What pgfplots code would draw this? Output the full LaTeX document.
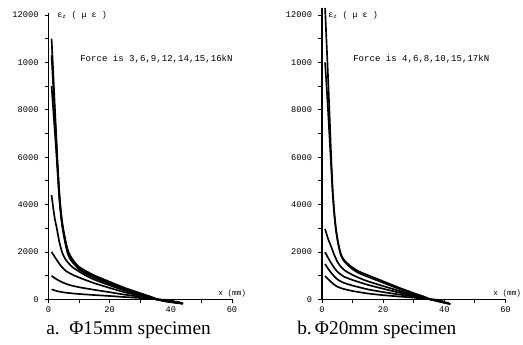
\documentclass[border=0pt]{standalone}
\usepackage{pgfplots}
\pgfplotsset{compat=1.18}
\usepackage{fontspec}
\setmainfont{Liberation Serif}
\newfontfamily\mono{Liberation Mono}
\begin{document}
\begin{tikzpicture}[x=0.75pt,y=0.75pt]
\useasboundingbox (0,0) rectangle (523,344);
\pgfplotsset{
  myax/.style={
    scale only axis,
    anchor=south west,
    width=137.6pt,
    xmin=0, xmax=60, ymin=0,
    axis lines=left,
    axis line style={-, line width=0.9pt},
    clip=false,
    scaled y ticks=false, scaled x ticks=false,
    tick align=outside,
    major tick length=3pt,
    every tick/.style={line width=0.6pt, black},
    xtick={0,10,...,60},
    xticklabels={0,,20,,40,,60},
    ytick={0,1000,...,12000},
    yticklabels={0,,2000,,4000,,6000,,8000,,1000,,12000},
    ticklabel style={font=\mono\fontsize{6.5}{7}\selectfont},
    xticklabel style={yshift=1pt},
    yticklabel style={xshift=-1pt},
    no markers,
    every axis plot post/.style={black, solid, line width=1.25pt, line join=round, mark=none, smooth, tension=0.35},
  }
}
% ---------- left panel ----------
\begin{axis}[myax, at={(36.375pt,33.525pt)}, ymax=12080, height=214.6pt]
\addplot coordinates {(1,11000) (1.5,9700) (2,8300) (2.5,7000) (3,5700) (3.5,4600) (4,3800) (4.5,3250) (5,2850) (5.7,2400) (6.4,2050) (7.2,1820) (8,1660) (9,1500) (10,1370) (12,1210) (15,1010) (20,740) (25,480) (30,260) (33,130) (35.6,0) (38,-80) (41,-140) (44,-190)};
\addplot coordinates {(1,10300) (1.5,9100) (2,7900) (2.5,6700) (3,5500) (3.5,4450) (4,3700) (4.5,3150) (5,2770) (5.6,2360) (6.3,2010) (7,1780) (8,1600) (9,1450) (10,1310) (12,1150) (15,955) (20,700) (25,445) (30,235) (33,115) (35.5,0) (38,-75) (41,-130) (44,-180)};
\addplot coordinates {(1,9000) (1.5,8100) (2,7200) (2.5,6300) (3,5300) (3.5,4300) (4,3600) (4.5,3080) (5,2700) (5.6,2300) (6.2,1960) (7,1720) (8,1540) (9,1400) (10,1260) (12,1100) (15,905) (20,655) (25,410) (30,215) (33,105) (35.4,0) (38,-70) (41,-120) (44,-170)};
\addplot coordinates {(1,4400) (1.5,3900) (2,3450) (2.7,3000) (3.5,2450) (4.4,2000) (5.5,1700) (6.6,1520) (8,1340) (10,1170) (12,1020) (15,830) (20,590) (25,365) (30,185) (33,90) (35.3,0) (38,-65) (41,-110) (43.5,-150)};
\addplot coordinates {(1,2000) (2,1800) (3,1600) (4,1420) (5,1280) (6,1170) (8,1030) (10,920) (12,820) (15,680) (20,480) (25,295) (30,150) (33,70) (35.2,0) (38,-50) (41,-90) (43,-120)};
\addplot coordinates {(1,990) (2,900) (3,820) (5,690) (7,600) (10,510) (15,400) (20,300) (25,195) (30,110) (33,50) (35.2,0) (38,-35) (41,-60)};
\addplot coordinates {(1,420) (3,340) (5,290) (7,260) (10,225) (15,180) (20,140) (25,95) (30,55) (33,25) (35.3,0) (38,-20)};
\end{axis}
% ---------- right panel ----------
\begin{axis}[myax, at={(241.5pt,33.525pt)}, ymax=12300, height=218.5pt]
\addplot coordinates {(1,12300) (1.5,10800) (2,9300) (2.5,7700) (3,6000) (3.5,4600) (4,3700) (4.5,3050) (5,2600) (5.5,2250) (6.2,1900) (7,1700) (8,1550) (9,1440) (10,1340) (12,1180) (15,1020) (20,760) (25,500) (30,260) (33,130) (35.5,0) (38,-90) (40,-150) (42,-210)};
\addplot coordinates {(1,10000) (1.5,9000) (2,7900) (2.5,6750) (3,5600) (3.5,4450) (4,3600) (4.5,2980) (5,2540) (5.5,2200) (6.2,1850) (7,1650) (8,1500) (9,1380) (10,1270) (12,1110) (15,950) (20,700) (25,450) (30,230) (33,110) (35.4,0) (38,-80) (40,-135) (42,-190)};
\addplot coordinates {(1,2970) (2,2550) (3,2225) (4,1880) (5,1590) (6,1400) (7,1270) (8,1170) (10,1030) (12,910) (15,760) (20,560) (25,365) (30,190) (33,90) (35.3,0) (38,-70) (40,-120) (41.5,-160)};
\addplot coordinates {(1,1990) (2,1750) (3,1530) (4,1330) (5,1170) (7,970) (10,815) (15,610) (20,445) (25,290) (30,160) (33,75) (35.3,0) (38,-55) (40,-95)};
\addplot coordinates {(1,1490) (2,1290) (3,1120) (4,970) (5,845) (7,700) (10,580) (15,420) (20,305) (25,205) (30,120) (33,55) (35.3,0) (38,-40)};
\addplot coordinates {(1,985) (2,850) (3,730) (4,620) (5,535) (7,440) (10,350) (15,245) (20,175) (25,120) (30,70) (33,30) (35.5,0) (38,-20)};
\end{axis}
% ---------- texts ----------
\node[anchor=west, inner sep=0pt, font=\mono\fontsize{6.3}{7}\selectfont] at (57,329) {ε\textsubscript{z} ( μ ε )};
\node[anchor=west, inner sep=0pt, font=\mono\fontsize{6.3}{7}\selectfont] at (328,329) {ε\textsubscript{z} ( μ ε )};
\node[anchor=west, inner sep=0pt, font=\mono\fontsize{6.8}{8}\selectfont] at (80,285) {Force is 3,6,9,12,14,15,16kN};
\node[anchor=west, inner sep=0pt, font=\mono\fontsize{6.8}{8}\selectfont] at (353,285) {Force is 4,6,8,10,15,17kN};
\node[anchor=west, inner sep=0pt, font=\mono\fontsize{5.8}{7}\selectfont] at (218,51) {x (mm)};
\node[anchor=west, inner sep=0pt, font=\mono\fontsize{5.8}{7}\selectfont] at (493,51) {x (mm)};
\node[anchor=west, inner sep=0pt, font=\fontsize{14.5}{16}\selectfont] at (46,14) {a.\ \ Φ15mm specimen};
\node[anchor=west, inner sep=0pt, font=\fontsize{14.5}{16}\selectfont] at (297,14) {b.\,Φ20mm specimen};
\end{tikzpicture}
\end{document}
